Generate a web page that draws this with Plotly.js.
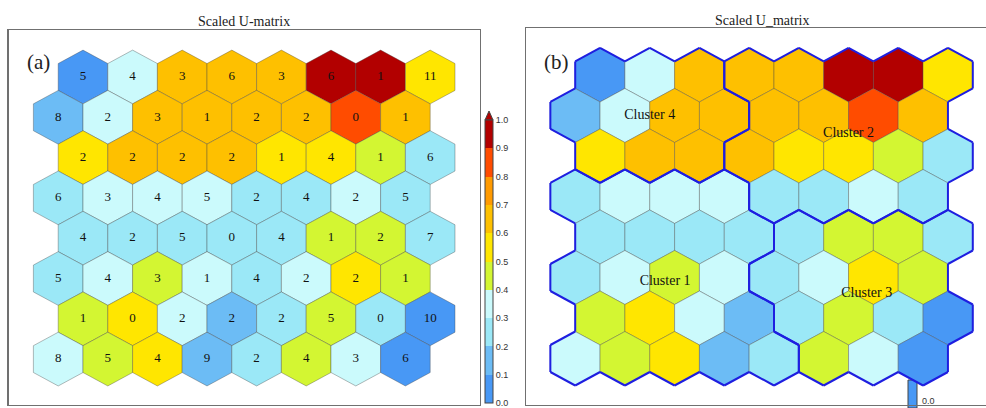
<!DOCTYPE html>
<html><head><meta charset="utf-8">
<script src="https://cdn.plot.ly/plotly-3.0.1.min.js"></script>
<style>html,body{margin:0;padding:0;background:#fff;}#chart{width:986px;height:408px;}</style>
</head><body><div id="chart"></div>
<script>
// ---- data: scaled U-matrix values (8 rows x 8 cols, top row first) ----
const uRow0 = [0.06, 0.36, 0.65, 0.66, 0.64, 0.95, 0.96, 0.55];
const uRow1 = [0.15, 0.34, 0.65, 0.63, 0.64, 0.66, 0.85, 0.65];
const uRow2 = [0.55, 0.64, 0.65, 0.63, 0.56, 0.54, 0.46, 0.25];
const uRow3 = [0.25, 0.33, 0.35, 0.36, 0.24, 0.26, 0.34, 0.25];
const uRow4 = [0.25, 0.24, 0.26, 0.25, 0.23, 0.45, 0.46, 0.27];
const uRow5 = [0.24, 0.35, 0.44, 0.34, 0.26, 0.33, 0.55, 0.45];
const uRow6 = [0.44, 0.55, 0.35, 0.15, 0.25, 0.45, 0.26, 0.07];
const uRow7 = [0.35, 0.46, 0.54, 0.14, 0.24, 0.44, 0.36, 0.05];
// hit counts shown in panel (a)
const hitRow0 = [5, 4, 3, 6, 3, 6, 1, 11];
const hitRow1 = [8, 2, 3, 1, 2, 2, 0, 1];
const hitRow2 = [2, 2, 2, 2, 1, 4, 1, 6];
const hitRow3 = [6, 3, 4, 5, 2, 4, 2, 5];
const hitRow4 = [4, 2, 5, 0, 4, 1, 2, 7];
const hitRow5 = [5, 4, 3, 1, 4, 2, 2, 1];
const hitRow6 = [1, 0, 2, 2, 2, 5, 0, 10];
const hitRow7 = [8, 5, 4, 9, 2, 4, 3, 6];
// cluster membership shown in panel (b)
const clRow0 = [4, 4, 4, 2, 2, 2, 2, 2];
const clRow1 = [4, 4, 4, 4, 2, 2, 2, 2];
const clRow2 = [4, 4, 4, 2, 2, 2, 2, 2];
const clRow3 = [1, 1, 1, 1, 2, 2, 2, 2];
const clRow4 = [1, 1, 1, 1, 3, 3, 3, 3];
const clRow5 = [1, 1, 1, 1, 3, 3, 3, 3];
const clRow6 = [1, 1, 1, 1, 3, 3, 3, 3];
const clRow7 = [1, 1, 1, 1, 1, 3, 3, 3];
const clusterIds = [1, 2, 3, 4];
const clusterNames = ['Cluster 1', 'Cluster 2', 'Cluster 3', 'Cluster 4'];
// colour scale (10 discrete bins, 0..1)
const binColors = ['#4898f5','#6cbcf5','#9be8f7','#cbfafc','#d3f632','#ffe600','#fec000','#ff9a00','#ff4c00','#b20000'];
const cbTickVals = [0, 0.1, 0.2, 0.3, 0.4, 0.5, 0.6, 0.7, 0.8, 0.9, 1.0];
const cbTickText = ['0.0','0.1','0.2','0.3','0.4','0.5','0.6','0.7','0.8','0.9','1.0'];
const titleA = 'Scaled U-matrix';
const titleB = 'Scaled U_matrix';

// ---- build ----
const uRows = [uRow0,uRow1,uRow2,uRow3,uRow4,uRow5,uRow6,uRow7];
const hitRows = [hitRow0,hitRow1,hitRow2,hitRow3,hitRow4,hitRow5,hitRow6,hitRow7];
const clRows = [clRow0,clRow1,clRow2,clRow3,clRow4,clRow5,clRow6,clRow7];

const W = 986, H = 408;
const serif = 'Liberation Serif, Times New Roman, serif';
const sans = 'Liberation Sans, Arial, sans-serif';

function colorOf(v){ return binColors[Math.max(0, Math.min(9, Math.floor(v*10 + 1e-9)))]; }
function center(r, c){ return [c + (r % 2 === 0 ? 0.5 : 0), -r]; }
// pointy-top hex vertices: top, UR, LR, bottom, LL, UL
function verts(cx, cy){
  return [[cx, cy+2/3],[cx+0.5, cy+1/3],[cx+0.5, cy-1/3],[cx, cy-2/3],[cx-0.5, cy-1/3],[cx-0.5, cy+1/3]];
}
const colorscale = [];
binColors.forEach((col, i) => { colorscale.push([i/10, col]); colorscale.push([(i+1)/10, col]); });

const traces = [];
['x','x2'].forEach((xa, p) => {
  const ya = p === 0 ? 'y' : 'y2';
  uRows.forEach((row, r) => row.forEach((v, c) => {
    const [cx, cy] = center(r, c);
    const vs = verts(cx, cy); vs.push(vs[0]);
    traces.push({type:'scatter', mode:'lines', x: vs.map(q=>q[0]), y: vs.map(q=>q[1]),
      fill:'toself', fillcolor: colorOf(v), line:{color:'rgba(70,70,70,0.38)', width:1},
      xaxis: xa, yaxis: ya, hoverinfo:'skip', showlegend:false});
  }));
});

// hit-count labels (a)
const lx = [], ly = [], lt = [];
hitRows.forEach((row, r) => row.forEach((h, c) => { const [cx, cy] = center(r, c); lx.push(cx); ly.push(cy); lt.push(String(h)); }));
traces.push({type:'scatter', mode:'text', x: lx, y: ly, text: lt, textposition:'middle center',
  textfont:{family: serif, size: 13, color:'#111'}, xaxis:'x', yaxis:'y', hoverinfo:'skip', showlegend:false});

// colour bar (a)
const cbBottom = 403, cbTop = 120;
const allU = [].concat(...uRows);
traces.push({type:'scatter', mode:'markers', x: lx, y: ly, xaxis:'x', yaxis:'y', hoverinfo:'skip', showlegend:false,
  marker:{size:1, opacity:0, color: allU, cmin:0, cmax:1, colorscale: colorscale, showscale:true,
    colorbar:{thickness:8, thicknessmode:'pixels', len:cbBottom-cbTop, lenmode:'pixels', x:485/W, xanchor:'left',
      y:(H-cbBottom)/H, yanchor:'bottom', xpad:0, ypad:0, outlinewidth:1, outlinecolor:'#444', borderwidth:0,
      tickmode:'array', tickvals: cbTickVals, ticktext: cbTickText, ticks:'', ticklabeloverflow:'allow',
      tickfont:{family: sans, size: 9, color:'#333'}}}});

// cluster boundaries (b)
const key = (x, y) => Math.round(x*2) + ',' + Math.round(y);
const clusterAt = {};
clRows.forEach((row, r) => row.forEach((k, c) => { const [cx, cy] = center(r, c); clusterAt[key(cx, cy)] = k; }));
const bx = [], by = [];
clRows.forEach((row, r) => row.forEach((k, c) => {
  const [cx, cy] = center(r, c);
  const vs = verts(cx, cy);
  for (let i = 0; i < 6; i++) {
    const a = vs[i], b = vs[(i+1)%6];
    const mx = (a[0]+b[0])/2, my = (a[1]+b[1])/2;
    const nx = 2*mx - cx, ny = 2*my - cy;
    const nk = clusterAt[key(nx, ny)];
    if (nk === undefined || nk !== k) { bx.push(a[0], b[0], null); by.push(a[1], b[1], null); }
  }
}));
traces.push({type:'scatter', mode:'lines', x: bx, y: by, line:{color:'#1e1ee0', width:2},
  xaxis:'x2', yaxis:'y2', hoverinfo:'skip', showlegend:false, connectgaps:false});

// cluster labels at cluster centroids (b)
const cx2 = [], cy2 = [];
clusterIds.forEach(id => {
  let sx = 0, sy = 0, n = 0;
  clRows.forEach((row, r) => row.forEach((k, c) => { if (k === id) { const [x, y] = center(r, c); sx += x; sy += y; n++; } }));
  cx2.push(sx/n); cy2.push(sy/n);
});
traces.push({type:'scatter', mode:'text', x: cx2, y: cy2, text: clusterNames, textposition:'middle center',
  textfont:{family: serif, size: 14, color:'#111'}, xaxis:'x2', yaxis:'y2', hoverinfo:'skip', showlegend:false});

const axBase = {showgrid:false, zeroline:false, showticklabels:false, ticks:'', showline:true,
  linecolor:'#707070', linewidth:1.3, fixedrange:true};
const layout = {
  width: W, height: H, margin:{l:0, r:0, t:0, b:0}, paper_bgcolor:'#fff', plot_bgcolor:'#fff',
  showlegend:false,
  xaxis: Object.assign({}, axBase, {domain:[8.7/W, 480/W], range:[-0.998, 8.504], mirror:true, anchor:'y'}),
  yaxis: Object.assign({}, axBase, {domain:[3/H, 378/H], range:[-8.139, 1.166], mirror:true, anchor:'x'}),
  xaxis2: Object.assign({}, axBase, {domain:[526/W, 1], range:[-0.99, 8.266], mirror:true, anchor:'y2'}),
  yaxis2: Object.assign({}, axBase, {domain:[3/H, 380/H], range:[-8.148, 1.16], mirror:false, anchor:'x2'}),
  annotations: [
    {text: titleA, xref:'paper', yref:'paper', x:244/W, y:(H-21)/H, xanchor:'center', yanchor:'middle', showarrow:false,
      font:{family: serif, size:14, color:'#222'}},
    {text: titleB, xref:'paper', yref:'paper', x:762/W, y:(H-20)/H, xanchor:'center', yanchor:'middle', showarrow:false,
      font:{family: serif, size:14, color:'#222'}},
    {text:'(a)', xref:'paper', yref:'paper', x:38.5/W, y:(H-62)/H, xanchor:'center', yanchor:'middle', showarrow:false,
      font:{family: serif, size:21, color:'#222'}},
    {text:'(b)', xref:'paper', yref:'paper', x:556/W, y:(H-62)/H, xanchor:'center', yanchor:'middle', showarrow:false,
      font:{family: serif, size:21, color:'#222'}},
    {text:'0.0', xref:'paper', yref:'paper', x:920/W, y:(H-401)/H, xanchor:'left', yanchor:'middle', showarrow:false,
      font:{family: sans, size:9, color:'#333'}}
  ],
  shapes: [
    {type:'path', xref:'paper', yref:'paper', layer:'above',
      path:`M ${485/W} ${(H-cbTop)/H} L ${489/W} ${(H-cbTop+9)/H} L ${493/W} ${(H-cbTop)/H} Z`,
      fillcolor: binColors[9], line:{color:'#444', width:1}},
    {type:'rect', xref:'paper', yref:'paper', layer:'below', x0:908/W, x1:917/W, y0:0, y1:(H-380)/H,
      fillcolor: binColors[0], line:{color:'#444', width:1}}
  ]
};
Plotly.newPlot('chart', traces, layout, {displayModeBar:false, staticPlot:true});
</script></body></html>
